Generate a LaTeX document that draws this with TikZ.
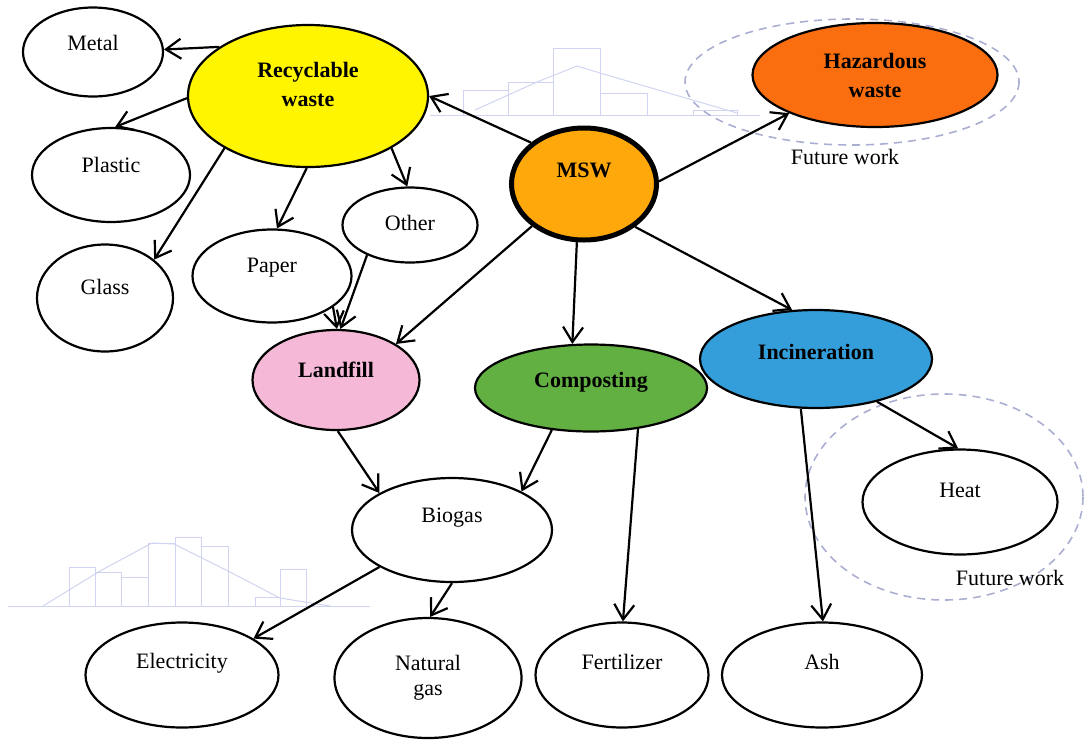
\documentclass[tikz,border=0pt]{standalone}
\usepackage{fontspec}
\setmainfont{Liberation Serif}
\usepackage{tikz}
\usetikzlibrary{arrows.meta, shapes.geometric}
\definecolor{RecYellow}{RGB}{255, 245, 0}
\definecolor{HazOrange}{RGB}{250, 110, 15}
\definecolor{MswOrange}{RGB}{255, 168, 12}
\definecolor{LandPink}{RGB}{245, 185, 215}
\definecolor{CompGreen}{RGB}{98, 176, 66}
\definecolor{IncBlue}{RGB}{52, 158, 218}
\definecolor{RingGray}{RGB}{170, 175, 210}
\definecolor{GhostBlue}{RGB}{208, 212, 240}
\newcommand{\lifted}[2]{\raisebox{#1}[\height][\depth]{#2}}

\begin{document}
\begin{tikzpicture}[
    x=0.5pt, y=-0.5pt,
    font=\fontsize{11}{14.5}\selectfont,
    wastebox/.style={ellipse, draw=black, line width=1.1pt, fill=#1, inner sep=0pt, font=\fontsize{11}{14.5}\selectfont\bfseries},
    itembox/.style={ellipse, draw=black, line width=1.1pt, fill=white, inner sep=0pt},
    flowarr/.style={-{Straight Barb[length=7.5pt,width=10pt]}, line width=1.1pt},
    futurering/.style={draw=RingGray, line width=0.8pt, dash pattern=on 4pt off 3pt},
    ghostline/.style={draw=GhostBlue, line width=0.5pt}
]
    \useasboundingbox (0,0) rectangle (1085,740);

    % faint histograms in the background
    \draw[ghostline] (430,115) -- (760,115);
    \draw[ghostline] (463,115) rectangle (508,90);
    \draw[ghostline] (508,115) rectangle (553,82);
    \draw[ghostline] (553,115) rectangle (600,48);
    \draw[ghostline] (600,115) rectangle (647,93);
    \draw[ghostline] (693,115) rectangle (737,110);
    \draw[ghostline] (475,110) -- (537,82) -- (577,66) -- (600,73) -- (737,113);

    \draw[ghostline] (8,606) -- (370,606);
    \draw[ghostline] (69,606) rectangle (95,567);
    \draw[ghostline] (95,606) rectangle (121,572);
    \draw[ghostline] (121,606) rectangle (148,577);
    \draw[ghostline] (148,606) rectangle (175,543);
    \draw[ghostline] (175,606) rectangle (201,537);
    \draw[ghostline] (201,606) rectangle (228,546);
    \draw[ghostline] (255,606) rectangle (280,597);
    \draw[ghostline] (280,606) rectangle (306,569);
    \draw[ghostline] (43,606) -- (100,571) -- (152,543) -- (174,544) -- (228,571) -- (280,598) -- (330,606);

    % future work rings
    \draw[futurering] (852,82) ellipse [x radius=167, y radius=63];
    \draw[futurering] (944,497) ellipse [x radius=139, y radius=103];

    % Main categories
    \node[wastebox=MswOrange, line width=2.5pt, minimum width=72.5pt, minimum height=56pt] (msw) at (584,184) {\lifted{7pt}{MSW}};
    \node[wastebox=RecYellow, minimum width=120pt, minimum height=71pt] (rec) at (308,96)
        {\lifted{5pt}{\begin{tabular}{@{}c@{}}Recyclable\\waste\end{tabular}}};
    \node[wastebox=HazOrange, minimum width=122.5pt, minimum height=52pt, align=center] (haz) at (875,75) {Hazardous\\waste};
    \node[wastebox=LandPink, minimum width=83.5pt, minimum height=50pt] (land) at (336,380) {\lifted{5pt}{Landfill}};
    \node[wastebox=CompGreen, minimum width=116pt, minimum height=43.5pt] (comp) at (591,388) {\lifted{3pt}{Composting}};
    \node[wastebox=IncBlue, minimum width=116pt, minimum height=49pt] (inc) at (816,359) {\lifted{3.5pt}{Incineration}};

    % Recyclable fractions
    \node[itembox, minimum width=70pt, minimum height=44.5pt] (metal) at (93,52) {\lifted{4.5pt}{Metal}};
    \node[itembox, minimum width=79pt, minimum height=47pt] (plastic) at (111,175) {\lifted{5pt}{Plastic}};
    \node[itembox, minimum width=68pt, minimum height=53.5pt] (glass) at (105,298) {\lifted{5.5pt}{Glass}};
    \node[itembox, minimum width=79.5pt, minimum height=46.5pt] (paper) at (272,276) {\lifted{4pt}{Paper}};
    \node[itembox, minimum width=67.5pt, minimum height=37.5pt] (other) at (410,225) {\lifted{1pt}{Other}};

    % Products
    \node[itembox, minimum width=100pt, minimum height=52pt] (biogas) at (452,530) {\lifted{6pt}{Biogas}};
    \node[itembox, minimum width=96.5pt, minimum height=52.5pt] (elec) at (182,675) {\lifted{6pt}{Electricity}};
    \node[itembox, minimum width=93.5pt, minimum height=60pt, align=center, font=\fontsize{11}{12.5}\selectfont] (natgas) at (428,678) {Natural\\gas};
    \node[itembox, minimum width=86.5pt, minimum height=52.5pt] (fert) at (622,675) {\lifted{6.5pt}{Fertilizer}};
    \node[itembox, minimum width=100pt, minimum height=52.5pt] (ash) at (822,675) {\lifted{6.5pt}{Ash}};
    \node[itembox, minimum width=97.5pt, minimum height=52.5pt] (heat) at (960,502) {\lifted{6pt}{Heat}};

    % future work labels
    \node (fut1) at (845,157) {Future work};
    \node (fut2) at (1010,578) {Future work};

    % Flow Arrows
    \draw[flowarr] (msw.142) -- (rec.0);
    \draw[flowarr] (msw.2) -- (haz.204);
    \draw[flowarr] (msw.219) -- (land.31);
    \draw[flowarr] (msw.263) -- (comp.113);
    \draw[flowarr] (msw.320) -- (inc.116);

    \draw[flowarr] (rec.151) -- (metal.2);
    \draw[flowarr] (rec.181) -- (plastic.85);
    \draw[flowarr] (rec.212) -- (glass.38);
    \draw[flowarr] (rec.269) -- (paper.84);
    \draw[flowarr] (rec.328) -- (other.94);

    \draw[flowarr] (paper.333) -- (land.89);
    \draw[flowarr] (other.215) -- (land.85);

    \draw[flowarr] (land.272) -- (biogas.153);
    \draw[flowarr] (comp.227) -- (biogas.29);
    \draw[flowarr] (comp.319) -- (fert.89);
    \draw[flowarr] (inc.253) -- (ash.89);
    \draw[flowarr] (inc.325) -- (heat.92);

    \draw[flowarr] (biogas.207) -- (elec.27);
    \draw[flowarr] (biogas.270) -- (natgas.88);

\end{tikzpicture}
\end{document}
